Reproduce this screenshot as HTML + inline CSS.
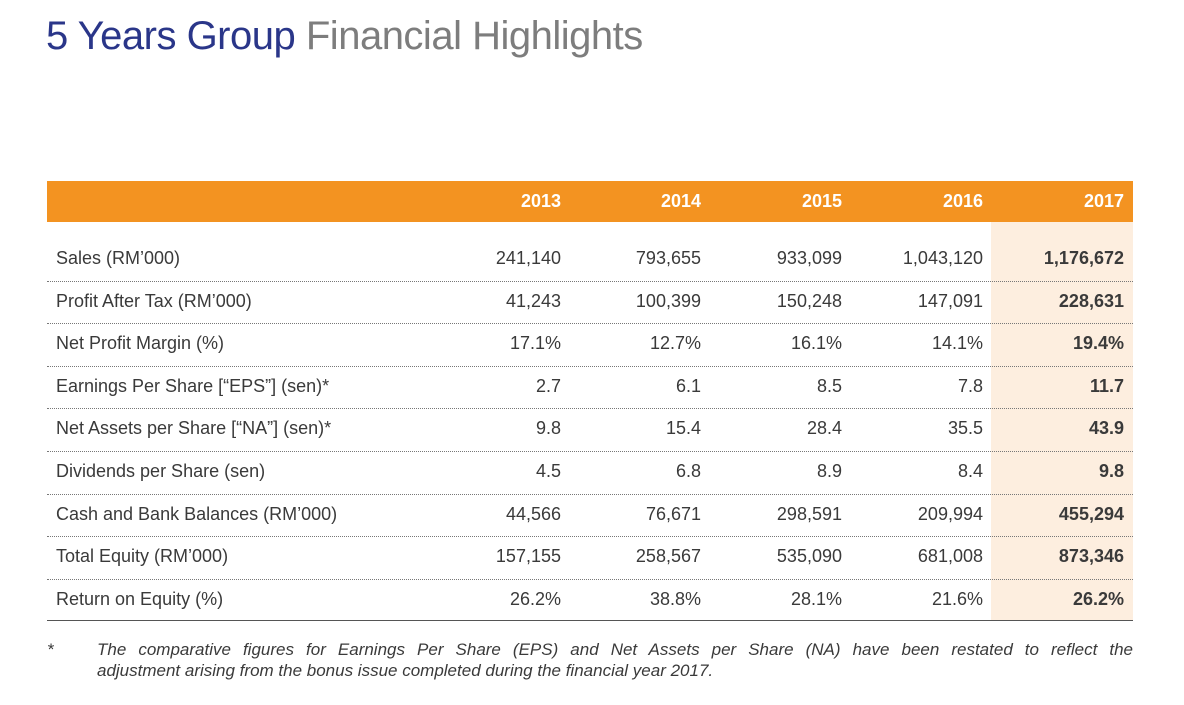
<!DOCTYPE html>
<html><head><meta charset="utf-8"><style>
body{margin:0;width:1184px;height:705px;background:#fff;position:relative;font-family:"Liberation Sans",sans-serif;overflow:hidden}
.t{position:absolute;white-space:nowrap}
#title{left:46px;top:14px;font-size:40px;letter-spacing:-0.5px}
#hdr{position:absolute;left:47px;top:181px;width:1086px;height:41px;background:#f39321}
#hl{position:absolute;left:991px;top:222px;width:142px;height:399px;background:#fdeedf}
.yr{color:#fff;font-weight:bold;font-size:18px;top:191px}
.lab{left:56px;font-size:18px;color:#3a3a3a}
.num{font-size:18px;color:#3a3a3a;text-align:right}
.b{font-weight:bold}
.sep{position:absolute;left:47px;width:1086px;border-top:1px dotted #777;height:0}
#bottom{position:absolute;left:47px;top:620px;width:1086px;height:1px;background:#555}
.fn{font-size:17px;font-style:italic;color:#3a3a3a}
</style></head><body>
<div class="t" id="title"><span style="color:#2a3689">5 Years Group</span> <span style="color:#7d7d7d">Financial Highlights</span></div>
<div id="hdr"></div>
<div id="hl"></div>
<div id="bottom"></div>
<div id="tbl"></div>
<div class="t fn" style="left:47px;top:640px">*</div>
<div class="t fn" style="left:97px;top:640px;width:1036px;white-space:normal;text-align:justify;text-align-last:justify;">The comparative figures for Earnings Per Share (EPS) and Net Assets per Share (NA) have been restated to reflect the</div>
<div class="t fn" style="left:97px;top:661px">adjustment arising from the bonus issue completed during the financial year 2017.</div>
<script>
const years=["2013","2014","2015","2016","2017"];
const labels=["Sales (RM’000)","Profit After Tax (RM’000)","Net Profit Margin (%)","Earnings Per Share [“EPS”] (sen)*","Net Assets per Share [“NA”] (sen)*","Dividends per Share (sen)","Cash and Bank Balances (RM’000)","Total Equity (RM’000)","Return on Equity (%)"];
const values=[
["241,140","793,655","933,099","1,043,120","1,176,672"],
["41,243","100,399","150,248","147,091","228,631"],
["17.1%","12.7%","16.1%","14.1%","19.4%"],
["2.7","6.1","8.5","7.8","11.7"],
["9.8","15.4","28.4","35.5","43.9"],
["4.5","6.8","8.9","8.4","9.8"],
["44,566","76,671","298,591","209,994","455,294"],
["157,155","258,567","535,090","681,008","873,346"],
["26.2%","38.8%","28.1%","21.6%","26.2%"]];
const rightEdges=[561,701,842,983,1124];
const rowTop=238,rowH=42.6;
const b=document.body;
years.forEach((y,i)=>{const d=document.createElement('div');d.className='t yr';d.textContent=y;d.style.right=(1184-rightEdges[i])+'px';


b.appendChild(d);});
labels.forEach((l,r)=>{const top=rowTop+r*rowH;
const d=document.createElement('div');d.className='t lab';d.textContent=l;d.style.top=(top+10)+'px';


b.appendChild(d);
values[r].forEach((v,i)=>{const c=document.createElement('div');c.className='t num'+(i==4?' b':'');c.textContent=v;c.style.top=(top+10)+'px';c.style.right=(1184-rightEdges[i])+'px';


b.appendChild(c);});
if(r<labels.length-1){const s=document.createElement('div');s.className='sep';s.style.top=Math.round(top+rowH)+'px';


b.appendChild(s);}
});
</script>
</body></html>
